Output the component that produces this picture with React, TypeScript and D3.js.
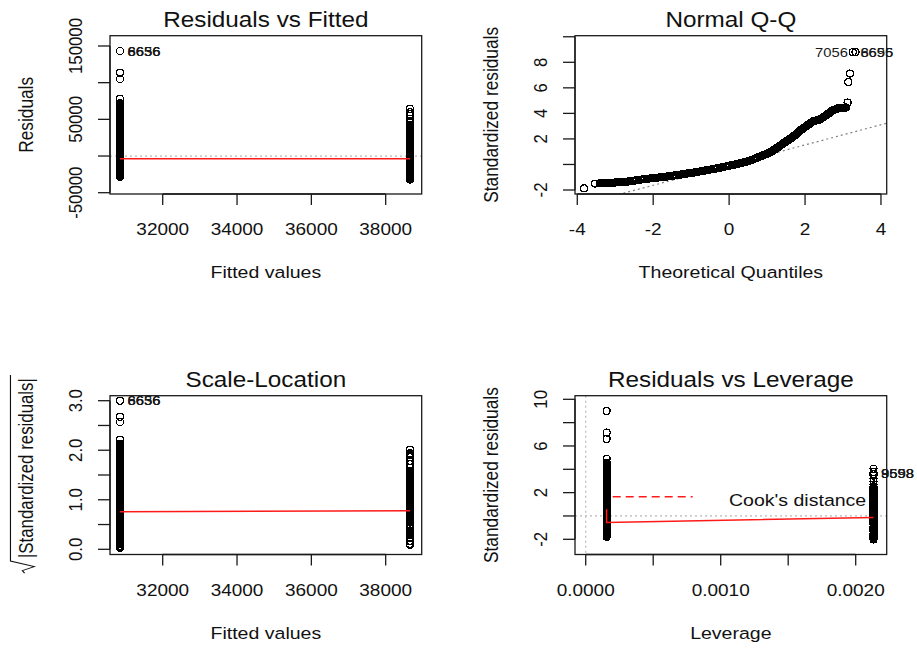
import React from "react";
import * as d3 from "d3";

// ---------------- data ----------------
// two groups of the single-factor model
const FITTED = [30851, 38654];
const LEVERAGE = [0.000155, 0.002132];
const SIGMA = 15900; // residual standard error

// standardized residuals of group 1 (fitted ~30851)
const LEFT_STD = [
  -1.78, -1.7, -1.6, -1.5, -1.4, -1.3, -1.2, -1.1, -1.0, -0.9, -0.8, -0.7, -0.6, -0.5,
  -0.42, -0.35, -0.28, -0.22, -0.17, -0.12, -0.08, -0.05, -0.03, -0.015, -0.005, -0.001,
  0.002, 0.01, 0.02, 0.04, 0.065, 0.1, 0.14, 0.19, 0.25, 0.31, 0.38, 0.46, 0.55, 0.65,
  0.75, 0.85, 0.95, 1.05, 1.15, 1.25, 1.35, 1.45, 1.55, 1.65, 1.75, 1.8, 1.85, 1.9, 1.95,
  2.0, 2.05, 2.1, 2.15, 2.2, 2.25, 2.3, 2.35, 2.4, 2.45, 2.5, 2.55, 2.65, 2.75, 2.85, 2.95,
  3.05, 3.15, 3.25, 3.35, 3.45, 3.55, 3.65, 3.75, 3.85, 3.95, 4.05, 4.15, 4.25, 4.35, 4.45,
  4.55, 4.9, 6.6, 7.15, 9.0, 9.0, 9.0,
];
// standardized residuals of group 2 (fitted ~38654)
const RIGHT_STD = [
  -2.02, -1.97, -1.87, -1.77, -1.67, -1.57, -1.47, -1.37, -1.27, -1.17, -1.07, -0.97, -0.87,
  -0.77, -0.67, -0.57, -0.48, -0.4, -0.33, -0.26, -0.2, -0.14, -0.1, -0.06, -0.03, -0.012,
  0.008, 0.025, 0.05, 0.08, 0.12, 0.17, 0.23, 0.29, 0.36, 0.44, 0.53, 0.62, 0.72, 0.82,
  0.92, 1.02, 1.12, 1.22, 1.32, 1.42, 1.52, 1.62, 1.72, 1.82, 1.92, 2.02, 2.07, 2.12, 2.17,
  2.22, 2.27, 2.32, 2.37, 2.42, 2.47, 2.52, 2.7, 2.95, 3.2, 3.45, 3.6, 3.75, 4.05,
];

// Normal Q-Q points: theoretical quantile / standardized residual
const QQ_THEO = [
  -3.82, -3.53,
  -3.4, -3.365, -3.33, -3.295, -3.26, -3.225, -3.19, -3.155, -3.12, -3.085, -3.05, -3.015,
  -2.98, -2.945, -2.91, -2.875, -2.84, -2.805, -2.77, -2.735, -2.7, -2.665, -2.63, -2.595,
  -2.56, -2.525, -2.49, -2.455, -2.42, -2.385, -2.35, -2.315, -2.28, -2.245, -2.21, -2.175,
  -2.14, -2.105, -2.07, -2.035, -2.0, -1.965, -1.93, -1.895, -1.86, -1.825, -1.79, -1.755,
  -1.72, -1.685, -1.65, -1.615, -1.58, -1.545, -1.51, -1.475, -1.44, -1.405, -1.37, -1.335,
  -1.3, -1.265, -1.23, -1.195, -1.16, -1.125, -1.09, -1.055, -1.02, -0.985, -0.95, -0.915,
  -0.88, -0.845, -0.81, -0.775, -0.74, -0.705, -0.67, -0.635, -0.6, -0.565, -0.53, -0.495,
  -0.46, -0.425, -0.39, -0.355, -0.32, -0.285, -0.25, -0.215, -0.18, -0.145, -0.11, -0.075,
  -0.04, -0.005, 0.03, 0.065, 0.1, 0.135, 0.17, 0.205, 0.24, 0.275, 0.31, 0.345, 0.38,
  0.415, 0.45, 0.485, 0.52, 0.555, 0.59, 0.625, 0.66, 0.695, 0.73, 0.765, 0.8,
  0.82, 0.84, 0.86, 0.88, 0.9, 0.92, 0.94, 0.96, 0.98, 1.0,
  1.02, 1.04, 1.06, 1.08, 1.1, 1.12, 1.14, 1.16, 1.18, 1.2,
  1.22, 1.24, 1.26, 1.28, 1.3, 1.32, 1.34, 1.36, 1.38, 1.4,
  1.42, 1.44, 1.46, 1.48, 1.5, 1.52, 1.54, 1.56, 1.58, 1.6,
  1.62, 1.64, 1.66, 1.68, 1.7, 1.72, 1.74, 1.76, 1.78, 1.8,
  1.82, 1.84, 1.86, 1.88, 1.9, 1.92, 1.94, 1.96, 1.98, 2.0,
  2.02, 2.04, 2.06, 2.08, 2.1, 2.12, 2.14, 2.16, 2.18, 2.2,
  2.22, 2.24, 2.26, 2.28, 2.3, 2.32, 2.34, 2.36, 2.38, 2.4,
  2.42, 2.44, 2.46, 2.48, 2.5, 2.52, 2.54, 2.56, 2.58, 2.6,
  2.62, 2.64, 2.66, 2.68, 2.7, 2.72, 2.74, 2.76, 2.78, 2.8,
  2.82, 2.84, 2.86, 2.88, 2.9, 2.92, 2.94, 2.96, 2.98, 3.0,
  3.02, 3.04, 3.06, 3.08,
  3.12, 3.14, 3.18, 3.26, 3.26, 3.33,
];
const QQ_STD = [
  -1.87, -1.5,
  -1.47, -1.465, -1.46, -1.455, -1.45, -1.445, -1.44, -1.435, -1.43, -1.425, -1.42, -1.415,
  -1.41, -1.4, -1.39, -1.385, -1.38, -1.37, -1.36, -1.355, -1.35, -1.335, -1.32, -1.305,
  -1.29, -1.275, -1.26, -1.245, -1.23, -1.215, -1.2, -1.185, -1.17, -1.155, -1.14, -1.13,
  -1.12, -1.105, -1.09, -1.075, -1.06, -1.05, -1.04, -1.03, -1.02, -1.01, -1.0, -0.985,
  -0.97, -0.96, -0.95, -0.935, -0.92, -0.905, -0.89, -0.875, -0.86, -0.845, -0.83, -0.815,
  -0.8, -0.78, -0.76, -0.745, -0.73, -0.715, -0.7, -0.685, -0.67, -0.655, -0.64, -0.625,
  -0.61, -0.59, -0.57, -0.55, -0.53, -0.51, -0.49, -0.475, -0.46, -0.44, -0.42, -0.4,
  -0.38, -0.36, -0.34, -0.32, -0.3, -0.285, -0.27, -0.245, -0.22, -0.195, -0.17, -0.15,
  -0.13, -0.105, -0.08, -0.055, -0.03, -0.01, 0.01, 0.035, 0.06, 0.085, 0.11, 0.135, 0.16,
  0.19, 0.22, 0.25, 0.28, 0.315, 0.35, 0.39, 0.43, 0.47, 0.51, 0.555, 0.6,
  0.625, 0.65, 0.675, 0.7, 0.725, 0.75, 0.77, 0.79, 0.815, 0.84,
  0.865, 0.89, 0.92, 0.95, 0.985, 1.02, 1.06, 1.1, 1.14, 1.18,
  1.215, 1.25, 1.295, 1.34, 1.38, 1.42, 1.465, 1.51, 1.55, 1.59,
  1.635, 1.68, 1.72, 1.76, 1.8, 1.84, 1.88, 1.92, 1.96, 2.0,
  2.04, 2.08, 2.12, 2.16, 2.21, 2.26, 2.31, 2.36, 2.415, 2.47,
  2.52, 2.57, 2.62, 2.67, 2.715, 2.76, 2.8, 2.84, 2.885, 2.93,
  2.97, 3.01, 3.055, 3.1, 3.145, 3.19, 3.23, 3.27, 3.315, 3.36,
  3.385, 3.41, 3.425, 3.44, 3.455, 3.47, 3.485, 3.5, 3.52, 3.54,
  3.58, 3.62, 3.66, 3.7, 3.74, 3.78, 3.82, 3.86, 3.905, 3.95,
  3.99, 4.03, 4.075, 4.12, 4.165, 4.21, 4.24, 4.27, 4.295, 4.32,
  4.34, 4.36, 4.385, 4.41, 4.43, 4.45, 4.45, 4.45, 4.45, 4.45,
  4.455, 4.46, 4.46, 4.46,
  4.85, 6.46, 7.12, 8.8, 8.8, 8.8,
];
const QQ_LINE_INTERCEPT = -0.05;
const QQ_LINE_SLOPE = 0.79;

// red smoothers
const SMOOTH_RVF = [-3800, -3800];
const SMOOTH_SL = [0.757, 0.777];
const SMOOTH_RVL_LEV = [0.000155, 0.000155, 0.002132];
const SMOOTH_RVL_STD = [0.57, -0.55, -0.14];

// labelled observations
const ID_RVF = ["6656", "6636", "8656"];
const ID_QQ = ["6656", "8695", "7056"];
const ID_QQ_POS = [4, 4, 2];
const ID_RVL = ["9598", "8558", "9698"];
const ID_RVL_STD = [3.66, 3.66, 3.66];

// axis limits and ticks
const FIT_DOMAIN = [30582, 38969];
const FIT_TICKS = [32000, 34000, 36000, 38000];
const FIT_LABELS = ["32000", "34000", "36000", "38000"];
const RES_DOMAIN = [-51770, 164040];
const RES_TICKS = [-50000, 0, 50000, 100000, 150000];
const RES_LABELS = ["-50000", "", "50000", "", "150000"];
const QQ_X_DOMAIN = [-4.06, 4.151];
const QQ_X_TICKS = [-4, -2, 0, 2, 4];
const QQ_X_LABELS = ["-4", "-2", "0", "2", "4"];
const QQ_Y_DOMAIN = [-2.313, 10.083];
const QQ_Y_TICKS = [-2, 0, 2, 4, 6, 8, 10];
const QQ_Y_LABELS = ["-2", "", "2", "4", "6", "8", ""];
const SL_Y_DOMAIN = [-0.105, 3.101];
const SL_Y_TICKS = [0, 0.5, 1, 1.5, 2, 2.5, 3];
const SL_Y_LABELS = ["0.0", "", "1.0", "", "2.0", "", "3.0"];
const LEV_DOMAIN = [-0.0000793, 0.0022296];
const LEV_TICKS = [0, 0.0005, 0.001, 0.0015, 0.002];
const LEV_LABELS = ["0.0000", "", "0.0010", "", "0.0020"];
const RVL_Y_DOMAIN = [-3.303, 10.309];
const RVL_Y_TICKS = [-2, 0, 2, 4, 6, 8, 10];
const RVL_Y_LABELS = ["-2", "", "2", "", "6", "", "10"];

// ---------------- drawing ----------------
const K = 1.13;
const FONT = "'Liberation Sans', Arial, Helvetica, sans-serif";
const INK = "#111";

type Box = { x0: number; x1: number; y0: number; y1: number };

function Txt(props: {
  x: number; y: number; size: number; anchor?: string; rot?: number; fill?: string;
  children: React.ReactNode;
}) {
  const { x, y, size, anchor = "middle", rot = 0, fill = INK, children } = props;
  return (
    <text
      transform={`translate(${x},${y}) scale(${K},1)${rot ? ` rotate(${rot})` : ""}`}
      fontSize={size}
      textAnchor={anchor as any}
      fontFamily={FONT}
      fill={fill}
    >
      {children}
    </text>
  );
}

function Pts({ pts }: { pts: [number, number][] }) {
  return (
    <g shapeRendering="crispEdges">
      {pts.map((p, i) => (
        <circle key={i} cx={p[0]} cy={p[1]} r={3.5} fill="none" stroke="#000" strokeWidth={1.2} />
      ))}
    </g>
  );
}

function IdLabel({ x, y, text, pos }: { x: number; y: number; text: string; pos: number }) {
  return (
    <Txt x={pos === 4 ? x + 7.5 : x - 7.5} y={y + 4.7} size={13.1} anchor={pos === 4 ? "start" : "end"} fill="#1a1a1a">
      {text}
    </Txt>
  );
}

function Panel(props: {
  id: string; box: Box; xDomain: number[]; yDomain: number[];
  xTicks: number[]; xLabels: string[]; yTicks: number[]; yLabels: string[];
  title: string; xlab: string; ylab?: string; customYlab?: React.ReactNode;
  clipped: (xs: any, ys: any) => React.ReactNode;
  free?: (xs: any, ys: any) => React.ReactNode;
}) {
  const { id, box, xDomain, yDomain, xTicks, xLabels, yTicks, yLabels, title, xlab, ylab } = props;
  const xs = d3.scaleLinear().domain(xDomain).range([box.x0, box.x1]);
  const ys = d3.scaleLinear().domain(yDomain).range([box.y1, box.y0]);
  const cx = (box.x0 + box.x1) / 2;
  const cy = (box.y0 + box.y1) / 2;
  const TL = 11;
  return (
    <g>
      <defs>
        <clipPath id={id}>
          <rect x={box.x0} y={box.y0} width={box.x1 - box.x0} height={box.y1 - box.y0} />
        </clipPath>
      </defs>
      <g clipPath={`url(#${id})`}>{props.clipped(xs, ys)}</g>
      <rect x={box.x0} y={box.y0} width={box.x1 - box.x0} height={box.y1 - box.y0} fill="none" stroke="#1a1a1a" strokeWidth={1.3} />
      {/* x axis */}
      <line x1={xs(xTicks[0])} x2={xs(xTicks[xTicks.length - 1])} y1={box.y1} y2={box.y1} stroke="#1a1a1a" strokeWidth={1.3} />
      {xTicks.map((t, i) => (
        <g key={"xt" + i}>
          <line x1={xs(t)} x2={xs(t)} y1={box.y1} y2={box.y1 + TL} stroke="#1a1a1a" strokeWidth={1.3} />
          {xLabels[i] ? <Txt x={xs(t)} y={box.y1 + 41} size={16.8}>{xLabels[i]}</Txt> : null}
        </g>
      ))}
      {/* y axis */}
      <line x1={box.x0} x2={box.x0} y1={ys(yTicks[0])} y2={ys(yTicks[yTicks.length - 1])} stroke="#1a1a1a" strokeWidth={1.3} />
      {yTicks.map((t, i) => (
        <g key={"yt" + i}>
          <line x1={box.x0 - TL - 1} x2={box.x0} y1={ys(t)} y2={ys(t)} stroke="#1a1a1a" strokeWidth={1.3} />
          {yLabels[i] ? <Txt x={box.x0 - 28.5} y={ys(t)} size={16.8} rot={-90}>{yLabels[i]}</Txt> : null}
        </g>
      ))}
      <Txt x={cx} y={box.y0 - 9.2} size={21.5}>{title}</Txt>
      <Txt x={cx} y={box.y1 + 84} size={17.3}>{xlab}</Txt>
      {ylab ? <Txt x={box.x0 - 77.5} y={cy} size={17.3} rot={-90}>{ylab}</Txt> : props.customYlab}
      {props.free ? props.free(xs, ys) : null}
    </g>
  );
}

const BOX_RVF: Box = { x0: 110, x1: 421.7, y0: 35.7, y1: 194 };
const BOX_QQ: Box = { x0: 575, x1: 886.7, y0: 35.7, y1: 194 };
const BOX_SL: Box = { x0: 110, x1: 421.7, y0: 395.7, y1: 554.5 };
const BOX_RVL: Box = { x0: 575, x1: 886.7, y0: 395.7, y1: 554.5 };

const line = d3.line<[number, number]>();
const RED = "#ff1a1a";

export default function App() {
  const groups = [LEFT_STD, RIGHT_STD];
  // residuals recovered from standardized residuals
  const obs = groups.flatMap((g, gi) =>
    g.map((s) => ({ fit: FITTED[gi], lev: LEVERAGE[gi], std: s, res: s * SIGMA * Math.sqrt(1 - LEVERAGE[gi]) }))
  );
  const topAbs = [...obs].sort((a, b) => Math.abs(b.res) - Math.abs(a.res)).slice(0, 3);
  const nq = Math.min(QQ_THEO.length, QQ_STD.length);

  const grayDot = { stroke: "#b8b8b8", strokeWidth: 1.2, strokeDasharray: "2 3", fill: "none" };

  return (
    <div>
      <svg width={917} height={648} style={{ position: "absolute", left: 0, top: 0, background: "#fff" }}>
        <rect x={0} y={0} width={917} height={648} fill="#fff" />

        {/* Residuals vs Fitted */}
        <Panel
          id="c1" box={BOX_RVF} xDomain={FIT_DOMAIN} yDomain={RES_DOMAIN}
          xTicks={FIT_TICKS} xLabels={FIT_LABELS} yTicks={RES_TICKS} yLabels={RES_LABELS}
          title="Residuals vs Fitted" xlab="Fitted values" ylab="Residuals"
          clipped={(xs, ys) => (
            <g>
              <line x1={BOX_RVF.x0} x2={BOX_RVF.x1} y1={ys(0)} y2={ys(0)} {...grayDot} />
              <Pts pts={obs.map((o) => [xs(o.fit), ys(o.res)] as [number, number])} />
              <path d={line(FITTED.map((f, i) => [xs(f), ys(SMOOTH_RVF[i])] as [number, number])) || ""} stroke={RED} strokeWidth={1.5} fill="none" />
            </g>
          )}
          free={(xs, ys) => (
            <g>
              {topAbs.map((o, i) => (
                <IdLabel key={i} x={xs(o.fit)} y={ys(o.res)} text={ID_RVF[i]} pos={4} />
              ))}
            </g>
          )}
        />

        {/* Normal Q-Q */}
        <Panel
          id="c2" box={BOX_QQ} xDomain={QQ_X_DOMAIN} yDomain={QQ_Y_DOMAIN}
          xTicks={QQ_X_TICKS} xLabels={QQ_X_LABELS} yTicks={QQ_Y_TICKS} yLabels={QQ_Y_LABELS}
          title="Normal Q-Q" xlab="Theoretical Quantiles" ylab="Standardized residuals"
          clipped={(xs, ys) => (
            <g>
              <line
                x1={xs(QQ_X_DOMAIN[0])} y1={ys(QQ_LINE_INTERCEPT + QQ_LINE_SLOPE * QQ_X_DOMAIN[0])}
                x2={xs(QQ_X_DOMAIN[1])} y2={ys(QQ_LINE_INTERCEPT + QQ_LINE_SLOPE * QQ_X_DOMAIN[1])}
                stroke="#808080" strokeWidth={1.2} strokeDasharray="2 3"
              />
              <Pts pts={QQ_THEO.slice(0, nq).map((q, i) => [xs(q), ys(QQ_STD[i])] as [number, number])} />
            </g>
          )}
          free={(xs, ys) => (
            <g>
              {ID_QQ.map((t, i) => (
                <IdLabel key={i} x={xs(QQ_THEO[nq - 3 + i])} y={ys(QQ_STD[nq - 3 + i])} text={t} pos={ID_QQ_POS[i]} />
              ))}
            </g>
          )}
        />

        {/* Scale-Location */}
        <Panel
          id="c3" box={BOX_SL} xDomain={FIT_DOMAIN} yDomain={SL_Y_DOMAIN}
          xTicks={FIT_TICKS} xLabels={FIT_LABELS} yTicks={SL_Y_TICKS} yLabels={SL_Y_LABELS}
          title="Scale-Location" xlab="Fitted values"
          customYlab={
            <g transform={`translate(32.5,${(BOX_SL.y0 + BOX_SL.y1) / 2}) scale(${K},1) rotate(-90)`}>
              <text x={-83} y={0} fontSize={17.3} fontFamily={FONT} fill={INK} textLength={180} lengthAdjust="spacingAndGlyphs">
                |Standardized residuals|
              </text>
              <path d="M-98,-7 L-95.5,-9 L-91.5,1.5 L-86,-19.5 L100,-19.5" fill="none" stroke={INK} strokeWidth={1} />
            </g>
          }
          clipped={(xs, ys) => (
            <g>
              <Pts pts={obs.map((o) => [xs(o.fit), ys(Math.sqrt(Math.abs(o.std)))] as [number, number])} />
              <path d={line(FITTED.map((f, i) => [xs(f), ys(SMOOTH_SL[i])] as [number, number])) || ""} stroke={RED} strokeWidth={1.5} fill="none" />
            </g>
          )}
          free={(xs, ys) => (
            <g>
              {topAbs.map((o, i) => (
                <IdLabel key={i} x={xs(o.fit)} y={ys(Math.sqrt(Math.abs(o.std)))} text={ID_RVF[i]} pos={4} />
              ))}
            </g>
          )}
        />

        {/* Residuals vs Leverage */}
        <Panel
          id="c4" box={BOX_RVL} xDomain={LEV_DOMAIN} yDomain={RVL_Y_DOMAIN}
          xTicks={LEV_TICKS} xLabels={LEV_LABELS} yTicks={RVL_Y_TICKS} yLabels={RVL_Y_LABELS}
          title="Residuals vs Leverage" xlab="Leverage" ylab="Standardized residuals"
          clipped={(xs, ys) => (
            <g>
              <line x1={xs(0)} x2={xs(0)} y1={BOX_RVL.y0} y2={BOX_RVL.y1} {...grayDot} />
              <line x1={BOX_RVL.x0} x2={BOX_RVL.x1} y1={ys(0)} y2={ys(0)} {...grayDot} />
              <Pts pts={obs.map((o) => [xs(o.lev), ys(o.std)] as [number, number])} />
              <path d={line(SMOOTH_RVL_LEV.map((l, i) => [xs(l), ys(SMOOTH_RVL_STD[i])] as [number, number])) || ""} stroke={RED} strokeWidth={1.5} fill="none" />
            </g>
          )}
          free={(xs, ys) => (
            <g>
              {ID_RVL.map((t, i) => (
                <IdLabel key={i} x={xs(LEVERAGE[1])} y={ys(ID_RVL_STD[i])} text={t} pos={4} />
              ))}
              <line x1={BOX_RVL.x0 + 37.7} x2={BOX_RVL.x0 + 117.7} y1={BOX_RVL.y0 + 101} y2={BOX_RVL.y0 + 101} stroke={RED} strokeWidth={1.5} strokeDasharray="8 5" />
              <Txt x={BOX_RVL.x0 + 154} y={BOX_RVL.y0 + 109.8} size={17.3} anchor="start">Cook's distance</Txt>
            </g>
          )}
        />
      </svg>
    </div>
  );
}
